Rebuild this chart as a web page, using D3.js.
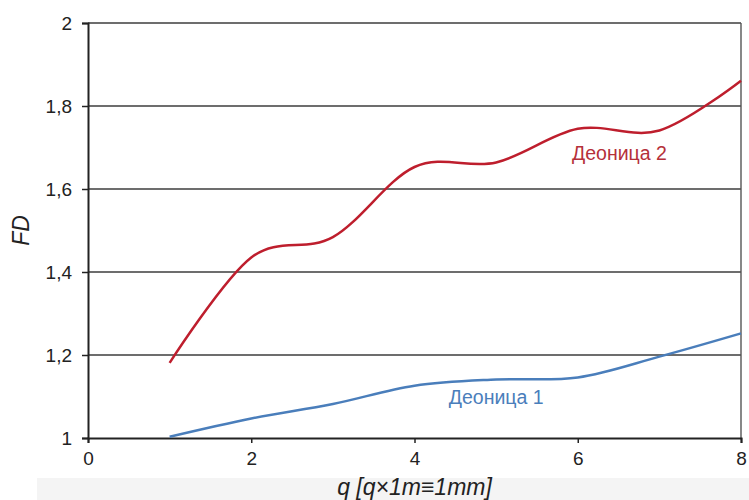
<!DOCTYPE html>
<html><head><meta charset="utf-8">
<script src="https://cdn.jsdelivr.net/npm/d3@7"></script>
<style>html,body{margin:0;padding:0;background:#fff;}svg{display:block;font-family:Arial,"Liberation Sans",sans-serif;}</style>
</head><body>
<script>
const qValues = [1, 2, 3, 4, 5, 6, 7, 8];
const deonica1 = [1.003, 1.047, 1.082, 1.126, 1.141, 1.146, 1.196, 1.252];
const deonica2 = [1.181, 1.435, 1.484, 1.653, 1.664, 1.745, 1.741, 1.861];
const xTicks = [0, 2, 4, 6, 8];
const yTicks = [1, 1.2, 1.4, 1.6, 1.8, 2];
const seriesNames = ["Деоница 1", "Деоница 2"];
const xTitle = "q [q×1m≡1mm]";
const yTitle = "FD";

const W = 749, H = 500;
const m = {left: 88, right: 8, top: 23, bottom: 62};
const svg = d3.select("body").append("svg").attr("width", W).attr("height", H);

svg.append("rect").attr("x", 37).attr("y", 478).attr("width", W - 37).attr("height", 22).attr("fill", "#f4f4f4");

const x = d3.scaleLinear().domain([0, 8]).range([m.left, W - m.right]);
const y = d3.scaleLinear().domain([1, 2]).range([H - m.bottom, m.top]);
const fmt = d => String(d).replace(".", ",");

// gridlines
svg.append("g").selectAll("line").data(yTicks.filter(d => d > 1)).join("line")
  .attr("x1", x(0)).attr("x2", x(8)).attr("y1", d => y(d)).attr("y2", d => y(d))
  .attr("stroke", "#3c3c3c").attr("stroke-width", 1.4);
// right border
svg.append("line").attr("x1", x(8)).attr("x2", x(8)).attr("y1", y(2)).attr("y2", y(1))
  .attr("stroke", "#555").attr("stroke-width", 1.4);

const yAxis = svg.append("g").attr("transform", `translate(${x(0)},0)`)
  .call(d3.axisLeft(y).tickValues(yTicks).tickFormat(fmt).tickSize(6).tickPadding(10));
const xAxis = svg.append("g").attr("transform", `translate(0,${y(1)})`)
  .call(d3.axisBottom(x).tickValues(xTicks).tickFormat(fmt).tickSize(5).tickPadding(9));
[yAxis, xAxis].forEach(a => {
  a.select(".domain").attr("stroke", "#222").attr("stroke-width", 2);
  a.selectAll(".tick line").attr("stroke", "#222").attr("stroke-width", 1.5);
  a.selectAll(".tick text").attr("fill", "#222").style("font-size", "19px").style("font-family", "Arial, 'Liberation Sans', sans-serif");
});

const line = d3.line().curve(d3.curveCardinal.tension(0)).x((d, i) => x(qValues[i])).y(d => y(d));
svg.append("path").datum(deonica1).attr("d", line).attr("fill", "none").attr("stroke", "#4a7ebb").attr("stroke-width", 2.5);
svg.append("path").datum(deonica2).attr("d", line).attr("fill", "none").attr("stroke", "#be1e2d").attr("stroke-width", 2.5);

svg.append("text").attr("x", x(5.93)).attr("y", y(1.67)).text(seriesNames[1])
  .attr("fill", "#b5303a").style("font-size", "19.5px");
svg.append("text").attr("x", x(4.42)).attr("y", y(1.083)).text(seriesNames[0])
  .attr("fill", "#4a7ebb").style("font-size", "19.5px");

svg.append("text").attr("x", (x(0) + x(8)) / 2).attr("y", 495).attr("text-anchor", "middle")
  .style("font-size", "23px").style("font-style", "italic").attr("fill", "#222").text(xTitle);
svg.append("text").attr("transform", `translate(29,${(y(1) + y(2)) / 2}) rotate(-90)`).attr("text-anchor", "middle")
  .style("font-size", "23px").style("font-style", "italic").attr("fill", "#222").text(yTitle);
</script>
</body></html>
